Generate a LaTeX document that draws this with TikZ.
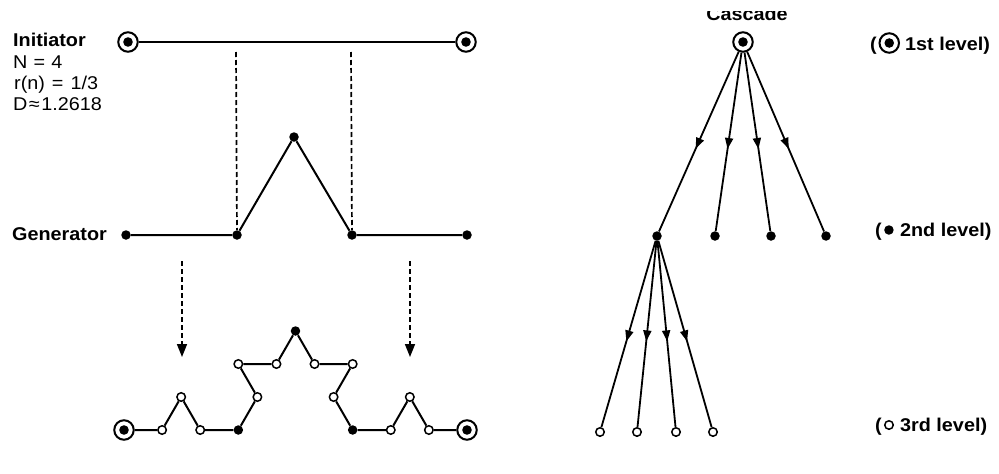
\documentclass[tikz,border=0pt]{standalone}
\usepackage{fontspec}
\setmainfont[FakeStretch=1.07]{Liberation Sans}
\usetikzlibrary{arrows.meta,decorations.markings}

\tikzset{
  cdot/.style={circle, draw, line width=2pt, minimum size=19.5pt, inner sep=0pt,
    path picture={\fill (path picture bounding box.center) circle (4.8pt);}},
  fdot/.style={circle, fill, inner sep=0pt, minimum size=9.5pt},
  odot/.style={circle, draw, fill=white, line width=1.5pt, minimum size=8.5pt, inner sep=0pt},
  seg/.style={line width=2pt},
  guide/.style={line width=1.7pt, dash pattern=on 5pt off 3pt},
  guidearrow/.style={guide, -{Triangle[length=13pt,width=10pt]}},
  flow/.style={line width=1.8pt, postaction={decorate},
    decoration={markings, mark=at position 0.54 with {\arrow{Triangle[length=11pt,width=8pt]}}}},
  lbl/.style={font=\fontsize{18.5}{21}\selectfont\bfseries, inner sep=0pt, anchor=base west},
  txt/.style={font=\fontsize{18.5}{21}\selectfont, inner sep=0pt, anchor=base west},
}

\begin{document}
\begin{tikzpicture}[x=1pt, y=-1pt]
\useasboundingbox (0,0) rectangle (999,474);

% ---- left column text ----
\node[lbl] (tInit) at (13,46) {Initiator};
\node[txt] (tN)    at (13,68) {N\,\,=\,\,4};
\node[txt] (tR)    at (13,89) {\kern1pt r(n)\kern7pt=\kern7pt1/3};
\node[txt] (tD)    at (13,110) {D\kern1.5pt≈\kern1.5pt1.2618};
\node[lbl] (tGen)  at (12,240) {Generator};

% ---- initiator ----
\node[cdot] (i1) at (128,42) {};
\node[cdot] (i2) at (466,42) {};
\draw[seg] (i1) -- (i2);

% ---- generator ----
\node[fdot] (g1) at (126,235) {};
\node[fdot] (g2) at (237,235) {};
\node[fdot] (g3) at (294,137) {};
\node[fdot] (g4) at (352,235) {};
\node[fdot] (g5) at (467,235) {};
\draw[seg] (g1) -- (g2) -- (g3) -- (g4) -- (g5);

% dashed guides from initiator thirds down to the generator
\coordinate (u1) at (236,52);
\coordinate (u2) at (351,52);
\draw[guide] (u1) -- (g2);
\draw[guide] (u2) -- (g4);

% dashed arrows towards the second iteration
\coordinate (a1s) at (182,261);
\coordinate (a1e) at (182,357);
\coordinate (a2s) at (410,261);
\coordinate (a2e) at (410,357);
\draw[guidearrow] (a1s) -- (a1e);
\draw[guidearrow] (a2s) -- (a2e);

% ---- second iteration (Koch curve) ----
\def\L{38.11}
\def\H{33.0}
\begin{scope}[shift={(124,430)}]
\node[cdot] (k0)  at (0,0) {};
\node[odot] (k1)  at (\L,0) {};
\node[odot] (k2)  at (1.5*\L,-\H) {};
\node[odot] (k3)  at (2*\L,0) {};
\node[fdot] (k4)  at (3*\L,0) {};
\node[odot] (k5)  at (3.5*\L,-\H) {};
\node[odot] (k6)  at (3*\L,-2*\H) {};
\node[odot] (k7)  at (4*\L,-2*\H) {};
\node[fdot] (k8)  at (4.5*\L,-3*\H) {};
\node[odot] (k9)  at (5*\L,-2*\H) {};
\node[odot] (k10) at (6*\L,-2*\H) {};
\node[odot] (k11) at (5.5*\L,-\H) {};
\node[fdot] (k12) at (6*\L,0) {};
\node[odot] (k13) at (7*\L,0) {};
\node[odot] (k14) at (7.5*\L,-\H) {};
\node[odot] (k15) at (8*\L,0) {};
\node[cdot] (k16) at (9*\L,0) {};
\end{scope}
\draw[seg] (k0) -- (k1) -- (k2) -- (k3) -- (k4) -- (k5) -- (k6) -- (k7) -- (k8)
  -- (k9) -- (k10) -- (k11) -- (k12) -- (k13) -- (k14) -- (k15) -- (k16);

% ---- cascade ----
\node[lbl, anchor=base] (tCas) at (747,20) {Cascade};
\fill[white] (600,0) rectangle (900,10.5);

\node[cdot] (c0) at (743,42) {};
\node[fdot] (c1) at (657,236) {};
\node[fdot] (c2) at (715,236) {};
\node[fdot] (c3) at (771,236) {};
\node[fdot] (c4) at (826,236) {};
\foreach \n in {c1,c2,c3,c4} \draw[flow] (c0) -- (\n);

\node[odot] (d1) at (600,432) {};
\node[odot] (d2) at (637,432) {};
\node[odot] (d3) at (676,432) {};
\node[odot] (d4) at (713,432) {};
\foreach \n in {d1,d2,d3,d4} \draw[flow] (c1) -- (\n);

% ---- level legend ----
\node[lbl] (p1) at (870,50) {(};
\node[cdot, anchor=west] (s1) at ([xshift=1.5pt]p1.east |- 0,43) {};
\node[lbl] (l1) at ([xshift=5pt]s1.east |- p1.base) {1st level)};

\node[lbl] (p2) at (875,236) {(};
\node[fdot, anchor=west] (s2) at ([xshift=2pt]p2.east |- 0,230) {};
\node[lbl] (l2) at ([xshift=6pt]s2.east |- p2.base) {2nd level)};

\node[lbl] (p3) at (875,431) {(};
\node[odot, anchor=west] (s3) at ([xshift=2pt]p3.east |- 0,425) {};
\node[lbl] (l3) at ([xshift=6pt]s3.east |- p3.base) {3rd level)};
\end{tikzpicture}
\end{document}
